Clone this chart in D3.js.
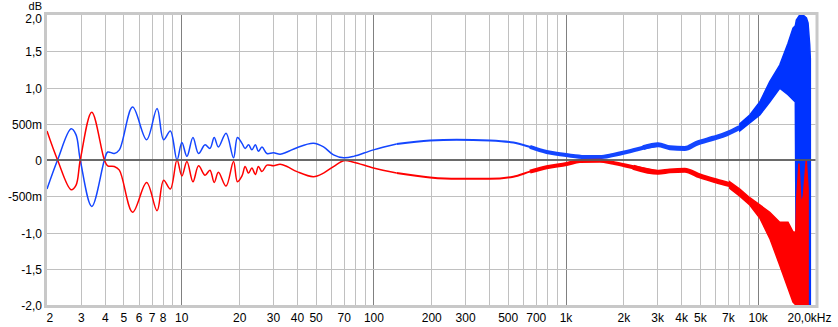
<!DOCTYPE html>
<html>
<head>
<meta charset="utf-8">
<script src="https://cdn.jsdelivr.net/npm/d3@7"></script>
<style>
  body { margin: 0; background: #fff; }
  svg { display: block; font-family: "Liberation Sans", Arial, sans-serif; }
</style>
</head>
<body>
<svg id="chart" width="838" height="327"></svg>
<script>
// axis labels
const yTicks = [-2, -1.5, -1, -0.5, 0, 0.5, 1, 1.5, 2];
const yLabels = ["-2,0", "-1,5", "-1,0", "-500m", "0", "500m", "1,0", "1,5", "2,0"];
const xTicks = [2, 3, 4, 5, 6, 7, 8, 10, 20, 30, 40, 50, 70, 100, 200, 300, 500, 700,
  1000, 2000, 3000, 4000, 5000, 7000, 10000, 20000];
const xLabels = ["2", "3", "4", "5", "6", "7", "8", "10", "20", "30", "40", "50", "70", "100",
  "200", "300", "500", "700", "1k", "2k", "3k", "4k", "5k", "7k", "10k", "20,0kHz"];

// blue channel (Hz, dB)
const blueF = [2.0, 2.27, 2.67, 2.83, 2.98, 3.42, 3.98, 4.14, 4.48, 4.76, 5.58, 6.6, 7.48, 8.09,
  8.77, 9.5, 10.07, 10.7, 11.5, 12.3, 13.3, 14.1, 14.84, 15.6, 17.1, 18.7, 19.6, 20.7, 21.5,
  22.4, 23.3, 24.3, 25.2, 26.3, 27.9, 30.2, 32.7, 35.5, 40, 48.7, 55, 62, 70, 79, 100, 132,
  197, 271, 404, 535, 653, 797, 935, 1096, 1287, 1509, 1770, 2078, 2535, 3034, 3490, 4176,
  4806, 5862, 6882, 8071];
const blueDb = [-0.40, 0, 0.43, 0.35, 0, -0.64, 0, 0.11, 0.09, 0.14, 0.73, 0.28, 0.71, 0.28,
  0.40, 0, 0.24, 0.05, 0.31, 0.09, 0.21, 0.16, 0.31, 0.18, 0.37, 0.03, 0.31, 0.23, 0.16,
  0.21, 0.14, 0.21, 0.12, 0.18, 0.09, 0.10, 0.08, 0.11, 0.17, 0.23, 0.18, 0.07, 0.03, 0.05,
  0.14, 0.22, 0.27, 0.28, 0.27, 0.24, 0.18, 0.11, 0.08, 0.055, 0.04, 0.04, 0.07, 0.11, 0.17,
  0.21, 0.17, 0.16, 0.23, 0.30, 0.36, 0.45];

// red channel (Hz, dB)
const redF = [2.0, 2.27, 2.67, 2.83, 2.98, 3.42, 3.98, 4.14, 4.48, 4.76, 5.58, 6.6, 7.48, 8.09,
  8.77, 9.5, 10.07, 10.7, 11.5, 12.3, 13.3, 14.1, 14.84, 15.6, 17.1, 18.7, 19.6, 20.7, 21.5,
  22.4, 23.3, 24.3, 25.2, 26.3, 27.9, 30.2, 32.7, 35.5, 40, 48.7, 55, 62, 70, 79, 100, 132,
  197, 271, 404, 535, 653, 797, 1013, 1188, 1509, 1770, 2249, 3034, 3490, 4176, 4999, 6105,
  7158];
const redDb = [0.40, 0, -0.41, -0.35, 0, 0.66, 0, -0.08, -0.09, -0.14, -0.72, -0.31, -0.70,
  -0.28, -0.40, 0, -0.22, -0.02, -0.30, -0.08, -0.21, -0.14, -0.31, -0.17, -0.36, -0.02,
  -0.30, -0.22, -0.09, -0.18, -0.11, -0.20, -0.09, -0.16, -0.07, -0.08, -0.06, -0.09, -0.16,
  -0.23, -0.18, -0.09, -0.01, -0.03, -0.11, -0.18, -0.24, -0.26, -0.26, -0.23, -0.16, -0.10,
  -0.055, -0.014, -0.01, -0.04, -0.10, -0.17, -0.15, -0.14, -0.22, -0.29, -0.34];

// noisy top end, upper/lower envelope (Hz, dB)
const blueHfF = [8071, 9096, 10254, 11558, 13027, 14388, 15276, 15700, 15900, 16554, 17220,
  17938, 18290, 18658, 18800];
const blueHfTop = [0.50, 0.62, 0.80, 1.08, 1.31, 1.61, 1.82, 1.85, 1.93, 2.0, 2.0, 1.96, 1.89,
  1.59, 1.40];
const blueHfBot = [0.40, 0.51, 0.62, 0.80, 0.99, 0.90, 0.83, 0.80, -2.0, -2.0, -2.0, -2.0,
  -2.0, -2.0, -2.0];
const redHfF = [7158, 8071, 9096, 10254, 11558, 13027, 14388, 15276, 15800, 15950, 16400,
  16800, 17300, 17900, 18300];
const redHfTop = [-0.30, -0.40, -0.52, -0.62, -0.72, -0.86, -0.86, -0.99, -1.0, -0.55, -0.05,
  -0.60, -0.50, 0.0, -0.40];
const redHfBot = [-0.39, -0.50, -0.62, -0.80, -1.08, -1.45, -1.77, -1.96, -2.0, -2.0, -2.0,
  -2.0, -2.0, -2.0, -2.0];

const svg = d3.select("#chart");
const plotL = 47, plotR = 815.5, plotT = 15, plotB = 305;

const x = d3.scaleLog().domain([2, 20000]).range([plotL, plotR]);
const y = d3.scaleLinear().domain([-2, 2]).range([plotB, plotT]);

// frame
svg.append("rect")
  .attr("x", plotL - 1.5).attr("y", plotT - 1.5)
  .attr("width", plotR - plotL + 3).attr("height", plotB - plotT + 3)
  .attr("fill", "#fff").attr("stroke", "#c8c8c8").attr("stroke-width", 3);

// grid
const grid = svg.append("g");
x.ticks().filter(d => d > 2 && d < 20000).forEach(d => {
  const decade = Math.abs(Math.log10(d) - Math.round(Math.log10(d))) < 1e-9;
  grid.append("line")
    .attr("x1", Math.round(x(d)) + 0.5).attr("x2", Math.round(x(d)) + 0.5)
    .attr("y1", plotT).attr("y2", plotB)
    .attr("stroke", decade ? "#808080" : "#c0c0c0").attr("stroke-width", 1);
});
yTicks.filter(d => d !== 0 && Math.abs(d) < 2).forEach(d => {
  grid.append("line")
    .attr("x1", plotL).attr("x2", plotR)
    .attr("y1", Math.round(y(d)) + 0.5).attr("y2", Math.round(y(d)) + 0.5)
    .attr("stroke", "#c0c0c0").attr("stroke-width", 1);
});

svg.append("clipPath").attr("id", "plot")
  .append("rect").attr("x", plotL).attr("y", plotT)
  .attr("width", plotR - plotL).attr("height", plotB - plotT);
const plot = svg.append("g").attr("clip-path", "url(#plot)");

function drawSeries(F, D, color) {
  const pts = F.map((f, i) => [f, D[i]]);
  // thin at low freq, thicker where the measurement gets noisy
  const parts = [
    { lo: 2, hi: 150, w: 1.5, curve: d3.curveCatmullRom },
    { lo: 150, hi: 800, w: 2, curve: d3.curveMonotoneX },
    { lo: 790, hi: 3100, w: 4, curve: d3.curveMonotoneX },
    { lo: 3000, hi: 9000, w: 5, curve: d3.curveMonotoneX }
  ];
  parts.forEach(p => {
    const sub = pts.filter(d => d[0] >= p.lo && d[0] <= p.hi);
    // keep segments joined
    const before = pts.filter(d => d[0] < p.lo).pop();
    if (before) sub.unshift(before);
    plot.append("path")
      .datum(sub)
      .attr("fill", "none")
      .attr("stroke", color)
      .attr("stroke-width", p.w)
      .attr("stroke-linejoin", "round")
      .attr("d", d3.line().x(d => x(d[0])).y(d => y(d[1])).curve(p.curve));
  });
}

function drawBand(F, T, B, color) {
  const pts = F.map((f, i) => [f, T[i], B[i]]);
  plot.append("path")
    .datum(pts)
    .attr("fill", color)
    .attr("stroke", color)
    .attr("stroke-width", 1.5)
    .attr("d", d3.area().x(d => x(d[0])).y0(d => y(d[2])).y1(d => y(d[1])));
}

drawSeries(blueF, blueDb, "#1446ff");
drawBand(blueHfF, blueHfTop, blueHfBot, "#0033ff");
drawSeries(redF, redDb, "#ff0000");
drawBand(redHfF, redHfTop, redHfBot, "#ff0000");

// zero line on top
svg.append("line")
  .attr("x1", plotL).attr("x2", plotR)
  .attr("y1", y(0)).attr("y2", y(0))
  .attr("stroke", "#5a5a5a").attr("stroke-opacity", 0.9).attr("stroke-width", 2);

// y axis labels
const yAxis = svg.append("g")
  .attr("transform", `translate(${plotL},0)`)
  .call(d3.axisLeft(y).tickValues(yTicks).tickFormat((d, i) => yLabels[i]).tickSize(0).tickPadding(5));
yAxis.select(".domain").remove();
yAxis.selectAll("text").attr("font-size", 12).attr("fill", "#000").attr("dy", "0.38em")
  .attr("font-family", "Liberation Sans, Arial, sans-serif");
yAxis.selectAll(".tick").filter(d => d === 2).select("text").attr("dy", "0.62em");

svg.append("text")
  .attr("x", 42).attr("y", 10.2)
  .attr("text-anchor", "end").attr("font-size", 11).attr("fill", "#000")
  .text("dB");

// x axis labels
const xAxis = svg.append("g")
  .attr("transform", `translate(0,${plotB})`)
  .call(d3.axisBottom(x).tickValues(xTicks).tickFormat((d, i) => xLabels[i]).tickSize(0).tickPadding(8));
xAxis.select(".domain").remove();
xAxis.selectAll("text").attr("font-size", 12).attr("fill", "#000")
  .attr("font-family", "Liberation Sans, Arial, sans-serif");
xAxis.selectAll(".tick").filter(d => d === 2).select("text")
  .attr("text-anchor", "start").attr("x", -1);
xAxis.selectAll(".tick").filter(d => d === 20000).select("text")
  .attr("text-anchor", "end").attr("x", 831 - plotR);
</script>
</body>
</html>
